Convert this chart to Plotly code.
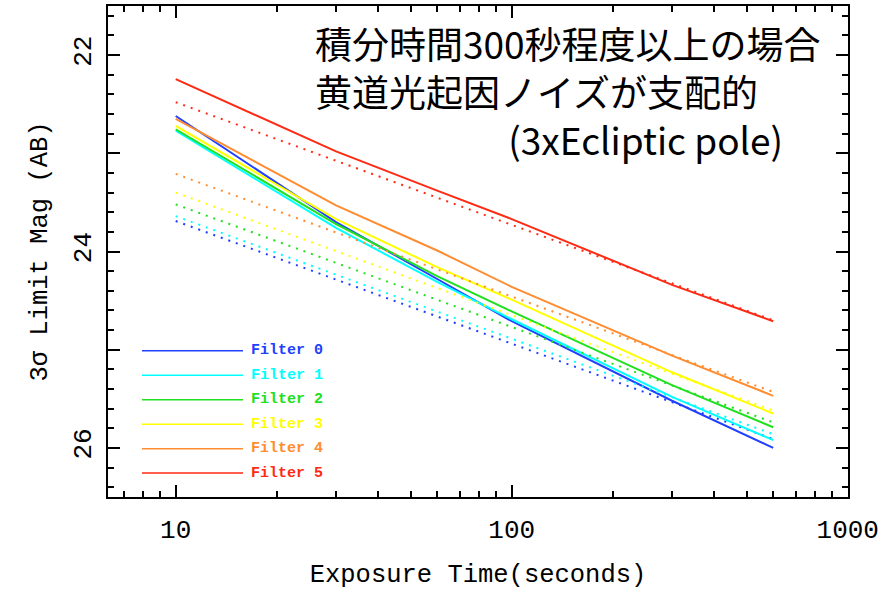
import plotly.graph_objects as go

# ---- data ----
exposure = [10, 30, 60, 100, 300, 600]
filter_names = ["Filter 0", "Filter 1", "Filter 2", "Filter 3", "Filter 4", "Filter 5"]
colors = ["#2040ff", "#00ffff", "#20e020", "#ffff00", "#ff8c30", "#ff2a14"]

mag_f0 = [22.62, 23.70, 24.28, 24.71, 25.52, 26.00]
mag_f1 = [22.77, 23.76, 24.31, 24.69, 25.48, 25.92]
mag_f2 = [22.755, 23.72, 24.25, 24.61, 25.36, 25.79]
mag_f3 = [22.72, 23.67, 24.16, 24.49, 25.23, 25.65]
mag_f4 = [22.65, 23.53, 23.99, 24.36, 25.06, 25.47]
mag_f5 = [22.245, 22.98, 23.38, 23.67, 24.34, 24.71]

bg_exposure = [10, 600]
bg_f0 = [23.69, 25.91]
bg_f1 = [23.64, 25.86]
bg_f2 = [23.52, 25.74]
bg_f3 = [23.40, 25.62]
bg_f4 = [23.21, 25.43]
bg_f5 = [22.48, 24.70]

solid = [mag_f0, mag_f1, mag_f2, mag_f3, mag_f4, mag_f5]
dotted = [bg_f0, bg_f1, bg_f2, bg_f3, bg_f4, bg_f5]

y_tickvals = [22, 23, 24, 25, 26]
y_ticktext = ["22", "", "24", "", "26"]
x_tickvals = [10, 100, 1000]
x_ticktext = ["10", "100", "1000"]

note_lines = ["積分時間300秒程度以上の場合", "黄道光起因ノイズが支配的",
              "\u3000\u3000\u3000\u3000\u3000\u00a0(3xEcliptic pole)"]

mono = "Liberation Mono"
jp = "Noto Sans CJK JP"

fig = go.Figure()
for name, col, ys, yd in zip(filter_names, colors, solid, dotted):
    fig.add_trace(go.Scatter(x=bg_exposure, y=yd, mode="lines", showlegend=False,
                             line=dict(color=col, width=2, dash="2px,6px")))
    fig.add_trace(go.Scatter(x=exposure, y=ys, mode="lines", name=name, showlegend=False,
                             line=dict(color=col, width=2)))

# custom legend (keys + coloured labels)
leg_y0 = 0.2977
leg_dy = 0.0498
for i, (name, col) in enumerate(zip(filter_names, colors)):
    yy = leg_y0 - i * leg_dy
    fig.add_shape(type="line", xref="paper", yref="paper", x0=0.0459, x1=0.1824,
                  y0=yy, y1=yy, line=dict(color=col, width=1.5))
    fig.add_annotation(xref="paper", yref="paper", x=0.190, y=yy, text="<b>%s</b>" % name,
                       showarrow=False, xanchor="left", yanchor="middle",
                       font=dict(family=mono, size=15, color=col))

# Japanese note (one multi-line text)
fig.add_annotation(xref="paper", yref="paper", x=0.2775, y=0.826,
                   text="<br>".join(note_lines), showarrow=False, align="left",
                   xanchor="left", yanchor="middle",
                   font=dict(family=jp, size=37, color="black"))

axis_common = dict(showline=True, linecolor="black", linewidth=2, mirror="ticks",
                   ticks="inside", ticklen=12, tickwidth=1.5, tickcolor="black",
                   showgrid=False, zeroline=False, automargin=False,
                   tickfont=dict(family=mono, size=26, color="black"))

fig.update_xaxes(type="log", range=[0.7985, 3.0008], tickmode="array",
                 tickvals=x_tickvals, ticktext=x_ticktext,
                 minor=dict(ticks="inside", ticklen=6, tickwidth=1.5, tickcolor="black",
                            dtick="D1", showgrid=False),
                 ticklabelstandoff=8,
                 title=dict(text="Exposure Time(seconds)", standoff=22,
                            font=dict(family=mono, size=25.5, color="black")),
                 **axis_common)
fig.update_yaxes(range=[26.5, 21.5], tickmode="array",
                 tickvals=y_tickvals, ticktext=y_ticktext, tickangle=-90,
                 minor=dict(ticks="inside", ticklen=6, tickwidth=1.5, tickcolor="black",
                            tick0=22, dtick=0.2, showgrid=False),
                 ticklabelstandoff=5,
                 title=dict(text="3σ Limit Mag (AB)", standoff=14,
                            font=dict(family=mono, size=25.5, color="black")),
                 **axis_common)

fig.update_layout(width=879, height=590, paper_bgcolor="white", plot_bgcolor="white",
                  margin=dict(l=108, r=31, t=6, b=93), showlegend=False)

fig.write_html("out.html")
